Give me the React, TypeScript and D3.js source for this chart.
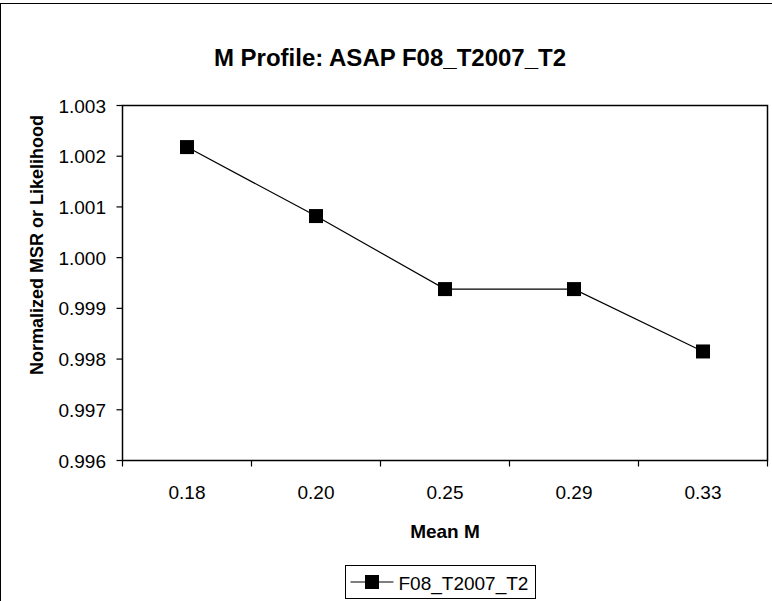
import React from "react";
import * as d3 from "d3";

const categories = ["0.18", "0.20", "0.25", "0.29", "0.33"];
const values = [1.00218, 1.00082, 0.99938, 0.99938, 0.99815];
const yTicks = [0.996, 0.997, 0.998, 0.999, 1.0, 1.001, 1.002, 1.003];
const seriesName = "F08_T2007_T2";
const title = "M Profile: ASAP F08_T2007_T2";
const xTitle = "Mean M";
const yTitle = "Normalized MSR or Likelihood";

const W = 772;
const H = 601;
const plot = { left: 122.5, top: 105.5, right: 767.5, bottom: 460.5 };
const font = "'Liberation Sans', Arial, sans-serif";

export default function App() {
  const x = d3.scaleBand<string>().domain(categories).range([plot.left, plot.right]);
  const y = d3.scaleLinear().domain([0.996, 1.003]).range([plot.bottom, plot.top]);
  const line = d3
    .line<number>()
    .x((_, i) => (x(categories[i]) as number) + x.bandwidth() / 2)
    .y((d) => y(d));
  const ms = 14;
  const boundaries = categories.map((c) => x(c) as number).concat([plot.right]);
  const legend = { x: 345.5, y: 565.5, w: 190, h: 33 };
  return (
    <svg
      width={W}
      height={H}
      style={{ position: "absolute", left: 0, top: 0, background: "#fff" }}
      fontFamily={font}
    >
      <rect x={0.5} y={3.5} width={W + 20} height={H + 20} fill="#fff" stroke="#000" strokeWidth={1} />
      <text x={390} y={66} textAnchor="middle" fontSize={24} fontWeight="bold">
        {title}
      </text>
      <rect
        x={plot.left}
        y={plot.top}
        width={plot.right - plot.left}
        height={plot.bottom - plot.top}
        fill="#fff"
        stroke="#000"
        strokeWidth={1.5}
      />
      {yTicks.map((t) => (
        <g key={t}>
          <line x1={plot.left - 6} x2={plot.left} y1={y(t)} y2={y(t)} stroke="#000" strokeWidth={1.2} />
          <text x={106} y={y(t) + 7} textAnchor="end" fontSize={19}>
            {t.toFixed(3)}
          </text>
        </g>
      ))}
      {boundaries.map((b, i) => (
        <line key={i} x1={b} x2={b} y1={plot.bottom} y2={plot.bottom + 6} stroke="#000" strokeWidth={1.2} />
      ))}
      {categories.map((c) => (
        <text key={c} x={(x(c) as number) + x.bandwidth() / 2} y={499} textAnchor="middle" fontSize={19}>
          {c}
        </text>
      ))}
      <text x={(plot.left + plot.right) / 2} y={538} textAnchor="middle" fontSize={19} fontWeight="bold">
        {xTitle}
      </text>
      <text
        transform={`translate(43,245) rotate(-90)`}
        textAnchor="middle"
        fontSize={18}
        fontWeight="bold"
      >
        {yTitle}
      </text>
      <path d={line(values) || ""} fill="none" stroke="#000" strokeWidth={1.2} />
      {values.map((v, i) => (
        <rect
          key={i}
          x={(x(categories[i]) as number) + x.bandwidth() / 2 - ms / 2}
          y={y(v) - ms / 2}
          width={ms}
          height={ms}
          fill="#000"
        />
      ))}
      <rect x={legend.x} y={legend.y} width={legend.w} height={legend.h} fill="#fff" stroke="#000" strokeWidth={1} />
      <line x1={legend.x + 5} x2={legend.x + 48} y1={legend.y + 16.5} y2={legend.y + 16.5} stroke="#000" strokeWidth={1.2} />
      <rect x={legend.x + 19.5} y={legend.y + 9.5} width={14} height={14} fill="#000" />
      <text x={legend.x + 53} y={legend.y + 24} fontSize={19}>
        {seriesName}
      </text>
    </svg>
  );
}
